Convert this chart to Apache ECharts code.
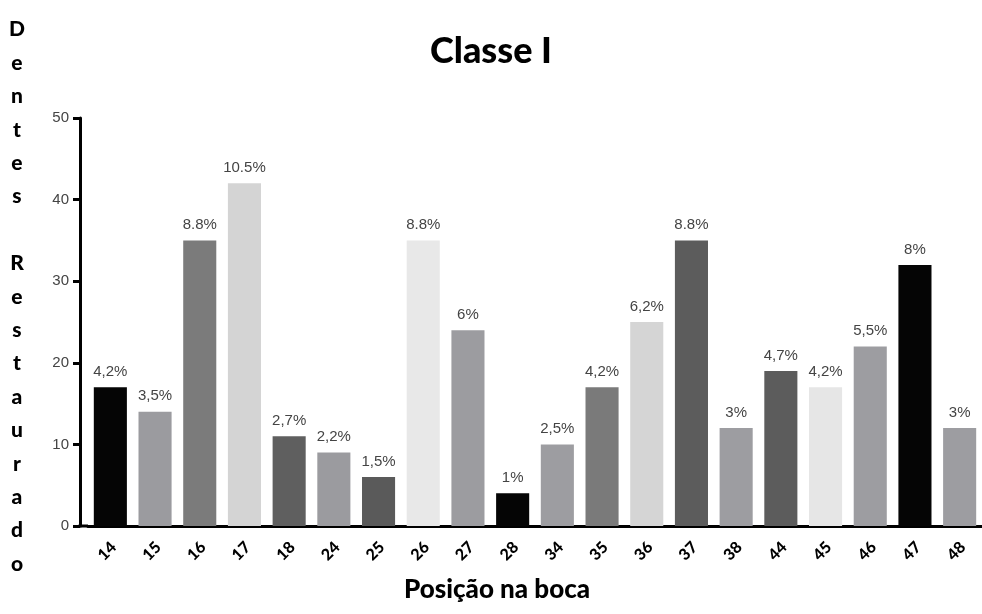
<!DOCTYPE html>
<html>
<head>
<meta charset="utf-8">
<script src="https://cdn.jsdelivr.net/npm/echarts@6/dist/echarts.min.js"></script>
<style>
  html, body { margin: 0; padding: 0; background: #fff; }
  #chart { width: 982px; height: 614px; }
</style>
</head>
<body>
<div id="chart"></div>
<script>
// Tooth positions (FDI numbering)
const categories = ['14','15','16','17','18','24','25','26','27','28','34','35','36','37','38','44','45','46','47','48'];
// Number of restored teeth per position
const counts = [17, 14, 35, 42, 11, 9, 6, 35, 24, 4, 10, 17, 25, 35, 12, 19, 17, 22, 32, 12];
// Percentage labels shown above each bar
const percentLabels = ['4,2%','3,5%','8.8%','10.5%','2,7%','2,2%','1,5%','8.8%','6%','1%','2,5%','4,2%','6,2%','8.8%','3%','4,7%','4,2%','5,5%','8%','3%'];
// Grey shade per bar
const barColors = ['#050505','#9b9b9f','#7b7b7b','#d4d4d4','#5f5f5f','#9b9b9f','#5a5a5a','#e8e8e8','#9c9ca0','#050505',
                   '#9d9da1','#7a7a7a','#d5d5d5','#5c5c5c','#9d9da1','#5c5c5c','#e6e6e6','#9d9da1','#050505','#9d9da1'];
const yTicks = [0, 10, 20, 30, 40, 50];

const titleText = 'Classe I';
const xName = 'Posição na boca';
const yName = 'Dentes Restaurado';

const chart = echarts.init(document.getElementById('chart'), null, { renderer: 'canvas' });

const boldFont = 'Lato, "Open Sans", sans-serif';
const plainFont = '"Liberation Sans", Arial, sans-serif';

chart.setOption({
  animation: false,
  backgroundColor: '#ffffff',
  title: {
    text: titleText,
    left: 'center',
    top: 28,
    textStyle: { fontFamily: boldFont, fontWeight: 900, fontSize: 36, color: '#000' }
  },
  grid: { left: 88, top: 118, width: 896, height: 408 },
  xAxis: {
    type: 'category',
    data: categories,
    axisLine: { lineStyle: { color: '#000', width: 3 } },
    axisTick: { alignWithLabel: true, length: 6, lineStyle: { color: '#000', width: 3 } },
    axisLabel: {
      rotate: 45, margin: 22, color: '#000',
      align: 'center', verticalAlign: 'middle',
      padding: [0, 9, 0, 0],
      fontFamily: boldFont, fontWeight: 900, fontSize: 16
    }
  },
  yAxis: {
    type: 'value',
    min: yTicks[0],
    max: yTicks[yTicks.length - 1],
    interval: 10,
    offset: 8,
    axisLine: { show: true, lineStyle: { color: '#000', width: 3 } },
    axisTick: { show: true, length: 7, lineStyle: { color: '#000', width: 3 } },
    axisLabel: { color: '#444', fontFamily: plainFont, fontSize: 15, margin: 11 },
    splitLine: { show: false }
  },
  series: [{
    type: 'bar',
    data: counts.map((v, i) => ({ value: v, itemStyle: { color: barColors[i] } })),
    barCategoryGap: '26%',
    label: {
      show: true,
      position: 'top',
      distance: 8,
      color: '#444',
      fontFamily: plainFont,
      fontSize: 15,
      formatter: p => percentLabels[p.dataIndex]
    }
  }]
});

// Join the x axis line to the offset y axis, and add the axis names
const origin = chart.convertToPixel({ gridIndex: 0 }, [0, 0]);
const gridLeft = 88;
chart.setOption({
  graphic: [
    {
      type: 'line',
      shape: { x1: gridLeft - 9.5, y1: origin[1], x2: gridLeft, y2: origin[1] },
      style: { stroke: '#000', lineWidth: 3 }
    },
    {
      type: 'text',
      x: 497,
      y: 590,
      style: {
        text: xName,
        font: '900 26px ' + boldFont,
        fill: '#000',
        align: 'center',
        verticalAlign: 'middle'
      }
    },
    {
      type: 'text',
      x: 17,
      y: 13,
      style: {
        text: yName.split('').join('\n'),
        font: '900 21px ' + boldFont,
        fill: '#000',
        lineHeight: 33.4,
        align: 'center'
      }
    }
  ]
});
</script>
</body>
</html>
